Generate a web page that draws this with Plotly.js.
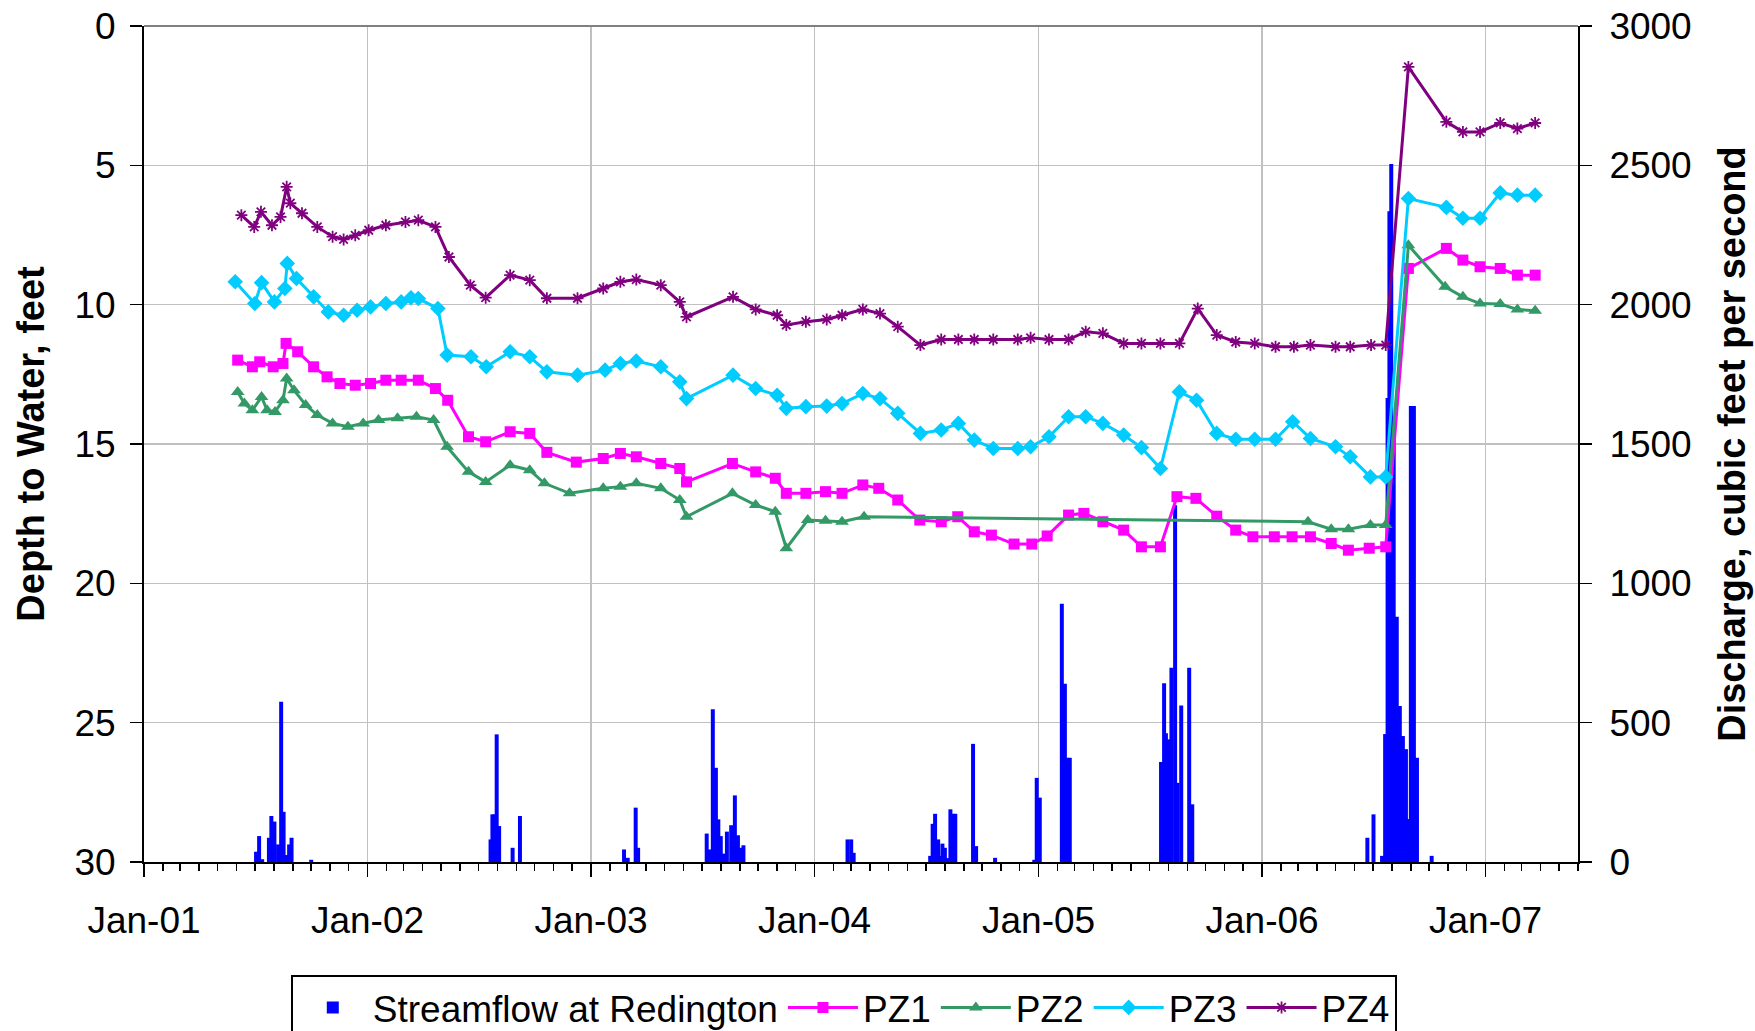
<!DOCTYPE html>
<html>
<head>
<meta charset="utf-8">
<script src="https://cdn.plot.ly/plotly-3.0.1.min.js"></script>
<style>html,body{margin:0;padding:0;background:#fff;}#chart{width:1755px;height:1031px;}</style>
</head>
<body>
<div id="chart"></div>
<script>
// ---------- axis ticks ----------
const tickDates = ['2001-01-01','2002-01-01','2003-01-01','2004-01-01','2005-01-01','2006-01-01','2007-01-01'];
const tickLabels = ['Jan-01','Jan-02','Jan-03','Jan-04','Jan-05','Jan-06','Jan-07'];

// ---------- streamflow at Redington (cfs) ----------
const flowDates = [
 '2001-07-03','2001-07-08','2001-07-13','2001-07-24','2001-07-28','2001-08-02','2001-08-08','2001-08-13','2001-08-17','2001-08-22','2001-08-26','2001-08-30','2001-10-01',
 '2002-07-21','2002-07-24','2002-07-28','2002-07-31','2002-08-04','2002-08-26','2002-09-07',
 '2003-02-24','2003-03-02','2003-03-15','2003-03-19',
 '2003-07-09','2003-07-14','2003-07-19','2003-07-24','2003-07-28','2003-08-01','2003-08-06','2003-08-11','2003-08-18','2003-08-24','2003-08-29','2003-09-03','2003-09-07',
 '2004-02-24','2004-03-01','2004-03-05',
 '2004-07-08','2004-07-12','2004-07-16','2004-07-21','2004-07-24','2004-07-28','2004-08-01','2004-08-05','2004-08-10','2004-08-14','2004-08-18','2004-09-16','2004-09-21','2004-10-22',
 '2004-12-25','2004-12-29','2005-01-03','2005-02-08','2005-02-13','2005-02-17','2005-02-21',
 '2005-07-20','2005-07-25','2005-07-28','2005-08-01','2005-08-06','2005-08-12','2005-08-16','2005-08-22','2005-09-04','2005-09-09',
 '2006-06-22','2006-07-02','2006-07-16','2006-07-21','2006-07-25','2006-07-28','2006-07-31','2006-08-04','2006-08-09','2006-08-14','2006-08-19','2006-08-24','2006-08-28','2006-09-01','2006-09-06','2006-09-11','2006-10-05'
];
const flowCfs = [
 37,93,10,87,165,145,63,575,180,25,63,87,8,
 81,171,171,458,129,51,165,
 45,15,195,51,
 102,45,548,338,153,93,30,109,132,239,96,51,60,
 81,81,33,
 22,137,173,81,22,66,51,14,189,173,173,424,57,15,
 8,302,231,927,640,374,374,
 359,641,462,440,697,1280,284,562,697,207,
 87,171,22,459,1665,2335,2505,1550,880,560,452,405,154,1636,1636,374,22
];

// ---------- depth to water (feet) ----------
const pz1Dates = ['2001-06-03','2001-06-27','2001-07-09','2001-07-31','2001-08-16','2001-08-21','2001-09-09','2001-10-05','2001-10-27','2001-11-17','2001-12-12',
 '2002-01-06','2002-01-31','2002-02-25','2002-03-25','2002-04-22','2002-05-12','2002-06-15','2002-07-13','2002-08-22','2002-09-23','2002-10-21','2002-12-08',
 '2003-01-21','2003-02-18','2003-03-16','2003-04-25','2003-05-26','2003-06-06','2003-08-20','2003-09-27','2003-10-29','2003-11-16','2003-12-18',
 '2004-01-19','2004-02-15','2004-03-20','2004-04-15','2004-05-16','2004-06-21','2004-07-26','2004-08-22','2004-09-18','2004-10-16','2004-11-22','2004-12-21',
 '2005-01-15','2005-02-19','2005-03-16','2005-04-16','2005-05-20','2005-06-18','2005-07-19','2005-08-15','2005-09-15','2005-10-19','2005-11-19','2005-12-17',
 '2006-01-21','2006-02-19','2006-03-21','2006-04-24','2006-05-22','2006-06-25','2006-07-22','2006-08-28','2006-10-29','2006-11-25','2006-12-23',
 '2007-01-25','2007-02-22','2007-03-23'];
const pz1Depth = [11.99,12.23,12.05,12.23,12.11,11.39,11.69,12.23,12.59,12.83,12.89,
 12.83,12.71,12.71,12.71,13.01,13.43,14.74,14.92,14.56,14.62,15.3,15.65,
 15.52,15.34,15.46,15.7,15.88,16.36,15.70,16.0,16.23,16.77,16.77,
 16.71,16.77,16.47,16.59,17.01,17.73,17.79,17.61,18.15,18.27,18.59,18.59,
 18.30,17.55,17.49,17.79,18.09,18.69,18.69,16.89,16.95,17.59,18.09,18.33,
 18.33,18.33,18.33,18.57,18.81,18.74,18.69,8.70,7.98,8.40,8.64,
 8.70,8.94,8.94];

const pz2Dates = ['2001-06-03','2001-06-14','2001-06-27','2001-07-12','2001-07-21','2001-08-03','2001-08-16','2001-08-22','2001-09-03','2001-09-22','2001-10-11','2001-11-05','2001-11-30','2001-12-25',
 '2002-01-19','2002-02-19','2002-03-22','2002-04-19','2002-05-11','2002-06-15','2002-07-13','2002-08-22','2002-09-23','2002-10-17','2002-11-27',
 '2003-01-21','2003-02-18','2003-03-16','2003-04-25','2003-05-26','2003-06-06','2003-08-20','2003-09-27','2003-10-29','2003-11-16','2003-12-21',
 '2004-01-19','2004-02-15','2004-03-22',
 '2006-03-17','2006-04-24','2006-05-22','2006-06-27','2006-07-22','2006-08-28','2006-10-27','2006-11-25','2006-12-23',
 '2007-01-25','2007-02-22','2007-03-23'];
const pz2Depth = [13.13,13.55,13.79,13.31,13.79,13.85,13.43,12.65,13.07,13.60,13.96,14.26,14.38,14.26,
 14.14,14.08,14.02,14.14,15.1,16.0,16.36,15.76,15.94,16.41,16.77,
 16.59,16.53,16.41,16.59,17.01,17.61,16.77,17.19,17.43,18.74,17.73,
 17.75,17.79,17.61,
 17.79,18.06,18.06,17.91,17.91,7.87,9.36,9.72,9.96,
 9.98,10.17,10.22];

const pz3Dates = ['2001-05-30','2001-07-01','2001-07-12','2001-08-02','2001-08-19','2001-08-23','2001-09-07','2001-10-05','2001-10-29','2001-11-23','2001-12-15',
 '2002-01-06','2002-01-31','2002-02-25','2002-03-13','2002-03-25','2002-04-26','2002-05-11','2002-06-19','2002-07-14','2002-08-22','2002-09-23','2002-10-21','2002-12-10',
 '2003-01-24','2003-02-18','2003-03-16','2003-04-25','2003-05-26','2003-06-06','2003-08-21','2003-09-27','2003-11-01','2003-11-16','2003-12-18',
 '2004-01-21','2004-02-15','2004-03-20','2004-04-17','2004-05-16','2004-06-22','2004-07-26','2004-08-23','2004-09-18','2004-10-19','2004-11-28','2004-12-19',
 '2005-01-18','2005-02-19','2005-03-19','2005-04-16','2005-05-20','2005-06-18','2005-07-19','2005-08-19','2005-09-16','2005-10-19','2005-11-19','2005-12-20',
 '2006-01-23','2006-02-20','2006-03-21','2006-05-01','2006-05-25','2006-06-27','2006-07-22','2006-08-28','2006-10-29','2006-11-25','2006-12-23',
 '2007-01-25','2007-02-22','2007-03-23'];
const pz3Depth = [9.18,9.96,9.21,9.90,9.42,8.52,9.06,9.72,10.26,10.38,10.20,
 10.08,9.96,9.90,9.75,9.78,10.14,11.81,11.87,12.23,11.69,11.87,12.41,12.53,
 12.35,12.11,12.02,12.23,12.77,13.37,12.53,13.01,13.25,13.72,13.66,
 13.64,13.55,13.19,13.37,13.90,14.62,14.50,14.26,14.86,15.16,15.16,15.10,
 14.74,14.02,14.02,14.26,14.68,15.13,15.88,13.13,13.43,14.62,14.83,14.83,
 14.83,14.20,14.80,15.10,15.46,16.18,16.18,6.19,6.51,6.90,6.90,
 5.99,6.07,6.07];

const pz4Dates = ['2001-06-09','2001-06-30','2001-07-11','2001-07-29','2001-08-12','2001-08-22','2001-08-28','2001-09-16','2001-10-11','2001-11-05','2001-11-23','2001-12-12',
 '2002-01-03','2002-01-31','2002-03-04','2002-03-25','2002-04-22','2002-05-14','2002-06-18','2002-07-13','2002-08-22','2002-09-23','2002-10-21','2002-12-10',
 '2003-01-21','2003-02-18','2003-03-16','2003-04-25','2003-05-26','2003-06-06','2003-08-21','2003-09-27','2003-11-01','2003-11-16','2003-12-18',
 '2004-01-21','2004-02-15','2004-03-20','2004-04-17','2004-05-16','2004-06-22','2004-07-26','2004-08-23','2004-09-18','2004-10-19','2004-11-28','2004-12-19',
 '2005-01-18','2005-02-19','2005-03-19','2005-04-16','2005-05-20','2005-06-18','2005-07-19','2005-08-19','2005-09-18','2005-10-19','2005-11-19','2005-12-20',
 '2006-01-23','2006-02-22','2006-03-21','2006-05-01','2006-05-25','2006-06-28','2006-07-22','2006-08-28','2006-10-29','2006-11-25','2006-12-23',
 '2007-01-25','2007-02-22','2007-03-23'];
const pz4Depth = [6.79,7.21,6.67,7.15,6.85,5.77,6.36,6.72,7.21,7.56,7.66,7.51,
 7.33,7.15,7.03,6.97,7.21,8.29,9.30,9.75,8.94,9.12,9.77,9.77,
 9.42,9.18,9.10,9.30,9.90,10.44,9.72,10.17,10.38,10.73,10.61,
 10.53,10.38,10.17,10.32,10.79,11.45,11.25,11.25,11.25,11.25,11.25,11.19,
 11.25,11.25,10.97,11.03,11.39,11.39,11.39,11.39,10.14,11.09,11.34,11.39,
 11.51,11.51,11.45,11.51,11.51,11.45,11.45,1.47,3.44,3.80,3.80,
 3.48,3.68,3.48];

// ---------- styling ----------
const FONT = 'Liberation Sans, Arial, sans-serif';
const DAY_MS = 86400000;

const traces = [
  {type:'bar', name:'Streamflow at Redington', x:flowDates, y:flowCfs, yaxis:'y',
   width:flowDates.map(() => 6.5*DAY_MS), marker:{color:'#0000FF', line:{width:0}}},
  {type:'scatter', mode:'lines+markers', name:'PZ1', x:pz1Dates, y:pz1Depth, yaxis:'y2',
   line:{color:'#FF00FF', width:3}, marker:{symbol:'square', size:11, color:'#FF00FF'}},
  {type:'scatter', mode:'lines+markers', name:'PZ2', x:pz2Dates, y:pz2Depth, yaxis:'y2',
   line:{color:'#339966', width:3}, marker:{symbol:'triangle-up', size:12, color:'#339966'}},
  {type:'scatter', mode:'lines+markers', name:'PZ3', x:pz3Dates, y:pz3Depth, yaxis:'y2',
   line:{color:'#00CCFF', width:3}, marker:{symbol:'diamond', size:12, color:'#00CCFF'}},
  {type:'scatter', mode:'lines+markers', name:'PZ4', x:pz4Dates, y:pz4Depth, yaxis:'y2',
   line:{color:'#800080', width:3}, marker:{symbol:'asterisk-open', size:10, color:'#800080', line:{color:'#800080', width:1.8}}}
];

const tickFont = {family:FONT, size:37, color:'#000'};
const titleFont = {family:FONT, size:38, color:'#000', weight:'bold'};

const layout = {
  width:1755, height:1031,
  margin:{l:144, r:177, t:26, b:169, autoexpand:false},
  paper_bgcolor:'#fff', plot_bgcolor:'#fff',
  showlegend:true,
  barmode:'overlay',
  xaxis:{
    type:'date', range:['2001-01-01','2007-06-01'],
    tickmode:'array', tickvals:tickDates, ticktext:tickLabels,
    ticks:'outside', ticklen:13, tickwidth:1.5, tickcolor:'#000',
    ticklabelstandoff:12,
    minor:{tickmode:'linear', tick0:'2001-01-01', dtick:'M1', ticks:'outside', ticklen:7, tickwidth:1.5, tickcolor:'#000', showgrid:false},
    showgrid:true, gridcolor:'#c0c0c0', gridwidth:1.5,
    showline:true, linecolor:'#000', linewidth:2,
    zeroline:false, tickfont:tickFont
  },
  yaxis:{
    side:'right', range:[0,3000], tickmode:'linear', tick0:0, dtick:500,
    ticks:'outside', ticklen:12, tickwidth:1.5, tickcolor:'#000',
    ticklabelstandoff:10,
    showgrid:true, gridcolor:'#c0c0c0', gridwidth:1.5,
    showline:true, linecolor:'#000', linewidth:2, zeroline:false,
    tickfont:tickFont,
    title:{text:'Discharge, cubic feet per second', font:titleFont, standoff:28}
  },
  yaxis2:{
    overlaying:'y', side:'left', range:[30,0], tickmode:'linear', tick0:0, dtick:5,
    ticks:'outside', ticklen:12, tickwidth:1.5, tickcolor:'#000',
    ticklabelstandoff:7,
    showgrid:false, showline:true, linecolor:'#000', linewidth:2, zeroline:false,
    tickfont:tickFont,
    title:{text:'Depth to Water, feet', font:titleFont, standoff:18}
  },
  yaxis3:{
    overlaying:'y', side:'right', range:[0,3000], tickmode:'linear', tick0:0, dtick:500,
    ticks:'inside', ticklen:12, tickwidth:1.5, tickcolor:'#000',
    showticklabels:false, showgrid:false, showline:false, zeroline:false
  },
  legend:{
    orientation:'h', x:0.488, y:-0.135, xanchor:'center', yanchor:'top',
    bgcolor:'#fff', bordercolor:'#000', borderwidth:2,
    font:{family:FONT, size:37, color:'#000'},
    itemwidth:70, traceorder:'normal'
  },
  shapes:[
    {type:'line', xref:'paper', yref:'paper', x0:0, x1:1, y0:1, y1:1, line:{color:'#808080', width:2}}
  ]
};

Plotly.newPlot('chart', traces, layout, {displayModeBar:false, staticPlot:true});
</script>
</body>
</html>
